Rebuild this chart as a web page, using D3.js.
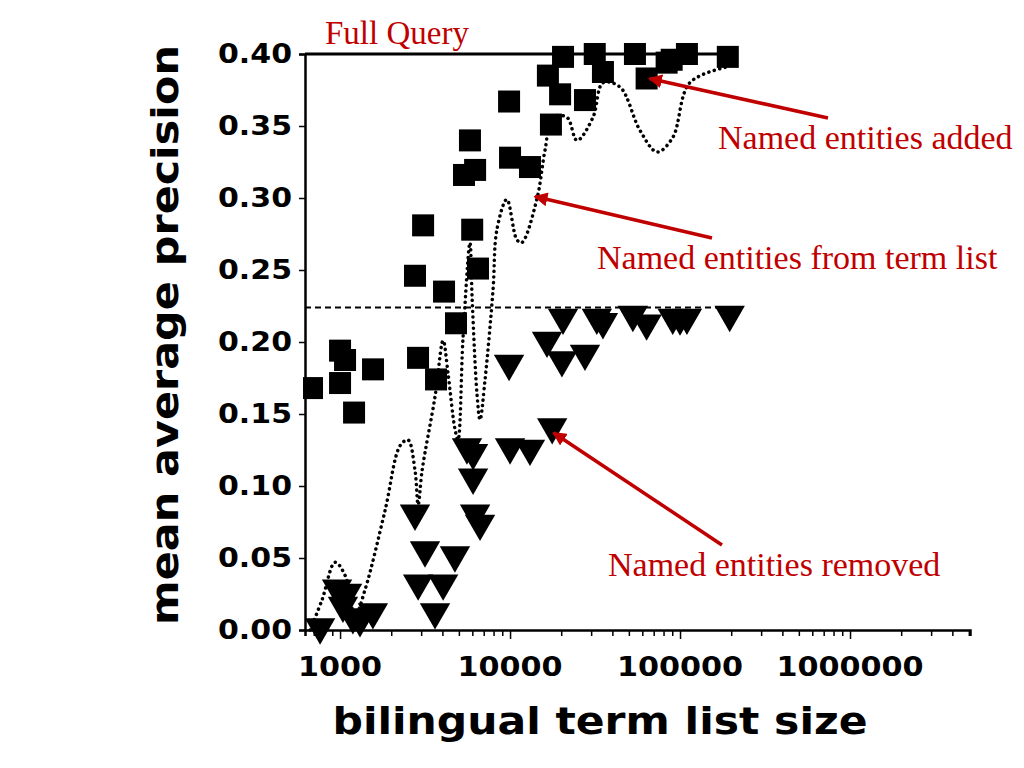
<!DOCTYPE html>
<html><head><meta charset="utf-8">
<script src="https://cdn.jsdelivr.net/npm/d3@7"></script>
<style>body{margin:0;background:#fff}</style>
</head><body><div id="chart"></div>
<script>
// Data (term list size, MAP)
const addedX = [684,1000,1070,1000,1209,1563,2876,3670,4810,3080,2760,4090,5810,6230,5360,5990,6480,9870,10000,13100,17400,16700,19700,20500,27600,31500,35200,54300,63600,89300,109800,191000,83400];
const addedY = [0.168,0.194,0.1875,0.1715,0.151,0.181,0.189,0.174,0.213,0.281,0.246,0.235,0.340,0.3195,0.316,0.278,0.251,0.367,0.328,0.3215,0.351,0.385,0.372,0.398,0.368,0.400,0.3875,0.400,0.383,0.396,0.400,0.398,0.394];

const removedX = [20500,32400,35200,52800,63600,90600,109800,100000,196000,16500,20200,27600,9870,5580,6060,6060,6230,6660,10000,13100,17700,2760,3160,4740,2880,4040,3620,960,1100,1040,1190,1560,763,1310];
const removedY = [0.217,0.217,0.214,0.219,0.213,0.217,0.217,0.2165,0.219,0.201,0.1875,0.192,0.185,0.127,0.123,0.106,0.081,0.074,0.127,0.126,0.141,0.081,0.0555,0.052,0.0325,0.0325,0.0125,0.029,0.026,0.017,0.009,0.0125,0.002,0.007];

const termX = [667,784,935,1070,1225,1403,1840,2255,2510,2760,2880,3040,3620,4040,4320,4750,4940,5290,5810,5990,6400,6660,7130,7940,8370,9570,10970,11720,14370,16050,17870,21630,24760,30750,35200,44400,58100,73300,90600,114000,189000];
const termY = [0,0.021,0.047,0.038,0.010,0.028,0.083,0.128,0.132,0.111,0.087,0.111,0.162,0.201,0.178,0.139,0.132,0.203,0.269,0.229,0.163,0.146,0.174,0.236,0.278,0.299,0.271,0.269,0.299,0.333,0.356,0.356,0.340,0.356,0.380,0.377,0.347,0.332,0.342,0.380,0.391];

const fullQuery = 0.40, fullQueryEnd = 180000;
const baseline = 0.224, baselineEnd = 200000;
const yTicks = [0,0.05,0.10,0.15,0.20,0.25,0.30,0.35,0.40];
const xLabels = [1000,10000,100000,1000000];

// annotations: label, text position, arrow start, arrow target (data)
const notes = [
  {text:"Named entities added", tx:718, ty:149, ax:828, ay:118, x:66000, y:0.383},
  {text:"Named entities from term list", tx:597, ty:269, ax:712, ay:238, x:14000, y:0.301},
  {text:"Named entities removed", tx:608, ty:576, ax:722, ay:545, x:18000, y:0.137}
];

const W = 1024, H = 768;
const svg = d3.select("#chart").append("svg").attr("width", W).attr("height", H);

const x = d3.scaleLog().domain([622, 5.08e6]).range([305, 970]);
const y = d3.scaleLinear().domain([0, 0.40]).range([630, 54]);

// reference lines
svg.append("line").attr("x1", x(622)).attr("x2", x(fullQueryEnd))
  .attr("y1", y(fullQuery)).attr("y2", y(fullQuery)).attr("stroke", "#000").attr("stroke-width", 3);
svg.append("line").attr("x1", x(622)).attr("x2", x(baselineEnd))
  .attr("y1", y(baseline)).attr("y2", y(baseline)).attr("stroke", "#000")
  .attr("stroke-width", 2).attr("stroke-dasharray", "6,4");

// dotted curve
const termData = termX.map((d, i) => [d, termY[i]]);
svg.append("path").datum(termData)
  .attr("d", d3.line().x(d => x(d[0])).y(d => y(d[1])).curve(d3.curveCatmullRom))
  .attr("fill", "none").attr("stroke", "#000").attr("stroke-width", 3.5)
  .attr("stroke-linecap", "round").attr("stroke-dasharray", "0.1,5.5");

// squares
svg.append("g").selectAll("rect").data(addedX.map((d, i) => [d, addedY[i]])).join("rect")
  .attr("x", d => x(d[0]) - 11).attr("y", d => y(d[1]) - 11)
  .attr("width", 22).attr("height", 22).attr("fill", "#000");

// down triangles
const tri = d3.symbol().type(d3.symbolTriangle).size(400);
svg.append("g").selectAll("path").data(removedX.map((d, i) => [d, removedY[i]])).join("path")
  .attr("d", tri)
  .attr("transform", d => `translate(${x(d[0])},${y(d[1])}) rotate(180)`)
  .attr("fill", "#000");

// clip area left of axis
svg.append("rect").attr("x", 0).attr("y", 0).attr("width", 303).attr("height", 620).attr("fill", "#fff");

// axes
const xTickVals = [];
for (let p = 2; p <= 6; p++) for (let m = 1; m <= 9; m++) {
  const v = m * Math.pow(10, p);
  if (v >= 622 && v <= 5.08e6) xTickVals.push(v);
}
const xa = svg.append("g").attr("transform", "translate(0,630)")
  .call(d3.axisBottom(x).tickValues(xTickVals).tickSize(6).tickFormat(""));
xa.selectAll(".tick line").attr("stroke-width", 1.5)
  .attr("y2", d => xLabels.includes(d) ? 9 : 6);
xa.select(".domain").attr("stroke-width", 2.5);
xa.selectAll(".lbl").data(xLabels).join("text")
  .attr("x", d => x(d)).attr("y", 46)
  .attr("text-anchor", "middle")
  .style("font", "bold 26px 'DejaVu Sans'").attr("fill", "#000")
  .attr("textLength", d => String(d).length * 21).attr("lengthAdjust", "spacingAndGlyphs")
  .text(d => d);

const ya = svg.append("g").attr("transform", "translate(305,0)")
  .call(d3.axisLeft(y).tickValues(yTicks).tickSize(6).tickFormat(d3.format(".2f")));
ya.select(".domain").attr("stroke-width", 2.5);
ya.selectAll(".tick line").attr("stroke-width", 1.5);
ya.selectAll("text").style("font", "bold 26px 'DejaVu Sans'").attr("fill", "#000").attr("x", -13)
  .attr("textLength", 74).attr("lengthAdjust", "spacingAndGlyphs");

// axis titles
svg.append("text").attr("x", 600).attr("y", 734).attr("text-anchor", "middle")
  .attr("textLength", 535).attr("lengthAdjust", "spacingAndGlyphs")
  .style("font", "bold 38px 'DejaVu Sans'").text("bilingual term list size");
svg.append("text").attr("transform", "translate(178,335) rotate(-90)").attr("text-anchor", "middle")
  .attr("textLength", 580).attr("lengthAdjust", "spacingAndGlyphs")
  .style("font", "bold 38px 'DejaVu Sans'").text("mean average precision");

// annotations
const red = "#c00000";
svg.append("defs").append("marker").attr("id", "ah").attr("viewBox", "0 0 10 10")
  .attr("refX", 9).attr("refY", 5).attr("markerWidth", 4).attr("markerHeight", 4)
  .attr("orient", "auto").append("path").attr("d", "M0,0L10,5L0,10z").attr("fill", red);

svg.append("text").attr("x", 325).attr("y", 44).attr("fill", red)
  .style("font", "33px 'Liberation Serif'").text("Full Query");

notes.forEach(n => {
  svg.append("line").attr("x1", n.ax).attr("y1", n.ay).attr("x2", x(n.x)).attr("y2", y(n.y))
    .attr("stroke", red).attr("stroke-width", 3.5).attr("marker-end", "url(#ah)");
  svg.append("text").attr("x", n.tx).attr("y", n.ty).attr("fill", red)
    .style("font", "34px 'Liberation Serif'").text(n.text);
});
</script></body></html>
